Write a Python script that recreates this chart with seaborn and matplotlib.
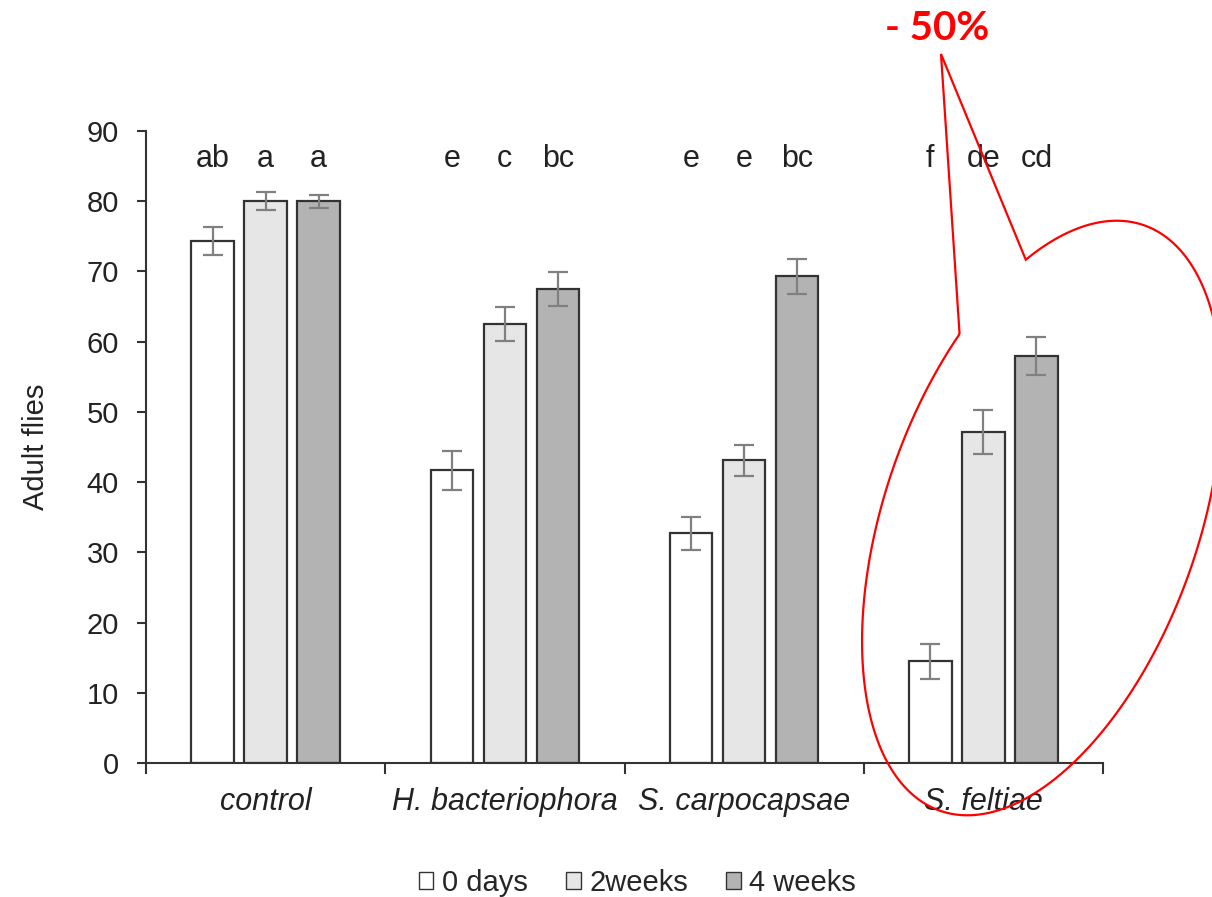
import numpy as np
import pandas as pd
import seaborn as sns
import matplotlib.pyplot as plt
from matplotlib.patches import Polygon

# ── data ─────────────────────────────────────────────────────
groups = ['control', 'H. bacteriophora', 'S. carpocapsae', 'S. feltiae']
periods = ['0 days', '2weeks', '4 weeks']

mean_0d = [74.3, 41.7, 32.7, 14.5]
mean_2w = [80.0, 62.5, 43.1, 47.1]
mean_4w = [80.0, 67.5, 69.3, 58.0]

se_0d = [2.0, 2.8, 2.4, 2.5]
se_2w = [1.3, 2.4, 2.2, 3.1]
se_4w = [0.9, 2.4, 2.5, 2.7]

letters_0d = ['ab', 'e', 'e', 'f']
letters_2w = ['a', 'c', 'e', 'de']
letters_4w = ['a', 'bc', 'bc', 'cd']

df = pd.DataFrame({
    'Treatment': groups * 3,
    'Period': np.repeat(periods, len(groups)),
    'Adult flies': mean_0d + mean_2w + mean_4w,
})
errs = [se_0d, se_2w, se_4w]
letters = [letters_0d, letters_2w, letters_4w]

sns.set_theme(style='ticks')
plt.rcParams['font.family'] = ['Liberation Sans', 'DejaVu Sans']

W, H = 1212, 897
fig = plt.figure(figsize=(W / 100, H / 100), dpi=100)
ax = fig.add_axes([146 / W, 1 - 763 / H, (1103 - 146) / W, (763 - 131) / H])

sns.barplot(data=df, x='Treatment', y='Adult flies', hue='Period',
            palette=['#FFFFFF', '#E6E6E6', '#B3B3B3'],
            edgecolor='#333333', linewidth=1.6,
            width=0.665, gap=0.2, errorbar=None, ax=ax)

# error bars + significance letters on top of the seaborn bars
for cont, err, lab in zip(ax.containers, errs, letters):
    xs = [b.get_x() + b.get_width() / 2 for b in cont]
    ys = [b.get_height() for b in cont]
    ax.errorbar(xs, ys, yerr=err, fmt='none', ecolor='#808080',
                elinewidth=1.6, capsize=7, capthick=1.6)
    for x, t in zip(xs, lab):
        ax.text(x, 86.0, t, ha='center', va='center', fontsize=22,
                color='#222222')

ax.set_ylim(0, 90)
ax.set_yticks(range(0, 91, 10))
ax.set_xlim(-0.5, 3.5)
ax.set_xticks(range(len(groups)))
ax.set_xticklabels(groups, fontstyle='italic', fontsize=22, color='#222222')
ax.set_xticks(np.arange(-0.5, 4, 1), minor=True)
ax.tick_params(axis='x', which='major', length=0, pad=17)
ax.tick_params(axis='x', which='minor', length=8, width=1.5,
               direction='out', color='#333333')
ax.tick_params(axis='y', labelsize=21, length=6.5, width=1.5,
               color='#333333', labelcolor='#222222', pad=13)
ax.set_xlabel('')
ax.set_ylabel('Adult flies', fontsize=21, color='#222222', labelpad=26)
sns.despine(ax=ax)
for s in ['left', 'bottom']:
    ax.spines[s].set_linewidth(1.5)
    ax.spines[s].set_color('#333333')

sns.move_legend(ax, 'center', bbox_to_anchor=(0.526, 0.016),
                bbox_transform=fig.transFigure, ncol=3, frameon=False,
                title=None, fontsize=21, handlelength=0.5, handleheight=0.5,
                handletextpad=0.3, columnspacing=1.3)
for hnd in ax.get_legend().get_patches():
    hnd.set_linewidth(1.0)

# ── red call-out annotation ───────────────────────────────────
fig.text(937 / W, 1 - 28 / H, '- 50%', color='red', fontsize=29,
         fontweight='bold', family=['Lato', 'DejaVu Sans'],
         ha='center', va='center')

cx, cy, a, b = 1042, H - 518, 310, 157
th = np.deg2rad(70.8)
tip = (941, H - 54)


def ell_t(px, py):
    dx, dy = px - cx, py - cy
    xr = dx * np.cos(th) + dy * np.sin(th)
    yr = -dx * np.sin(th) + dy * np.cos(th)
    return np.arctan2(yr / b, xr / a)


t1 = ell_t(960, H - 335)
t2 = ell_t(1026, H - 263)
if t2 < t1:
    t2 += 2 * np.pi
tt = np.linspace(t1, t2, 300)
ex = cx + a * np.cos(tt) * np.cos(th) - b * np.sin(tt) * np.sin(th)
ey = cy + a * np.cos(tt) * np.sin(th) + b * np.sin(tt) * np.cos(th)
pts = np.column_stack([np.append(ex, tip[0]) / W, np.append(ey, tip[1]) / H])
fig.add_artist(Polygon(pts, closed=True, fill=False, edgecolor='red',
                       linewidth=1.6, transform=fig.transFigure,
                       clip_on=False))

fig.savefig('out.png', dpi=100)
